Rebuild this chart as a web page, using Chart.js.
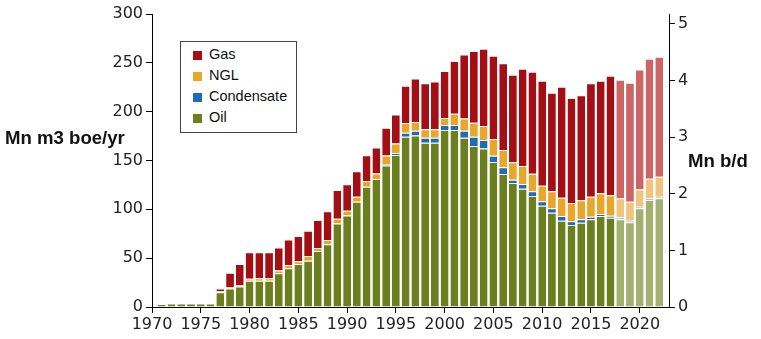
<!DOCTYPE html>
<html>
<head>
<meta charset="utf-8">
<script src="https://cdn.jsdelivr.net/npm/chart.js@4"></script>
<style>
    body { margin: 0; background: #fff; }
    #wrap { position: relative; width: 761px; height: 339px; }
    #chart { position: absolute; left: 0; top: 0; }
    .axis-title { position: absolute; font: bold 18.6px "Liberation Sans", Arial, sans-serif; color: #111; white-space: nowrap; line-height: 20px; }
    #legend { position: absolute; left: 180px; top: 41px; width: 117px; height: 92px; box-sizing: border-box; border: 1px solid #444; background: #fff; }
    .leg-row { position: absolute; left: 12px; height: 20px; line-height: 20px; font: 14.5px "Liberation Sans", Arial, sans-serif; color: #111; white-space: nowrap; }
    .leg-box { position: absolute; left: 0; top: 5px; width: 9px; height: 9px; }
    .leg-text { position: absolute; left: 16px; top: 0; }
</style>
</head>
<body>
<div id="wrap">
    <canvas id="chart" width="761" height="339"></canvas>
    <div class="axis-title" style="left:5px; top:128px;">Mn m3 boe/yr</div>
    <div class="axis-title" style="left:688px; top:151px;">Mn b/d</div>
    <div id="legend"></div>
</div>
<script>
const years = [1971, 1972, 1973, 1974, 1975, 1976, 1977, 1978, 1979, 1980,
    1981, 1982, 1983, 1984, 1985, 1986, 1987, 1988, 1989, 1990,
    1991, 1992, 1993, 1994, 1995, 1996, 1997, 1998, 1999, 2000,
    2001, 2002, 2003, 2004, 2005, 2006, 2007, 2008, 2009, 2010,
    2011, 2012, 2013, 2014, 2015, 2016, 2017, 2018, 2019, 2020,
    2021, 2022];

// Mn m3 oil equivalent per year
const oil = [3, 3.5, 3.5, 3.5, 3.5, 3.5, 15, 19, 21, 27,
    27, 27, 34.5, 39.6, 44, 47.4, 57.3, 64.2, 85.6, 93.8,
    107.8, 123, 131, 145, 155.6, 174.3, 175.7, 168.2, 168.2, 181.2,
    181.2, 173.3, 164.8, 162.4, 148.4, 136.1, 126.9, 121.1, 113.6, 103.7,
    96.5, 88.3, 83.9, 86.3, 89.8, 93.1, 91.4, 89.8, 86.7, 101,
    109.5, 111.3];
const condensate = [null, null, null, null, null, null, null, null, null, null,
    null, null, null, null, null, null, null, null, null, null,
    null, null, null, 1.5, 2, 4.1, 4.8, 5.1, 5.1, 5.1,
    5.1, 7.2, 9.5, 8.6, 6.5, 6.9, 3.4, 4.8, 4.8, 4.5,
    4.5, 4.8, 3.8, 3.5, 2.7, 2.1, 2, 2, 1.6, 1.7,
    1.8, 1.6];
const ngl = [null, null, null, null, null, null, 1, 1, 1, 2,
    2.4, 2.4, 3, 3.4, 2.8, 4.8, 3.1, 4.4, 4.8, 4.8,
    5.1, 6, 5.8, 8.5, 9.9, 9.9, 8.9, 8.6, 8.6, 7.1,
    11.6, 12.6, 14.3, 14.3, 17.1, 17.7, 17.8, 18.4, 18, 16,
    17.4, 18.8, 18.7, 19.4, 20.4, 21.2, 20.9, 19.5, 19.5, 17.8,
    20, 20.5];
const gas = [null, null, null, null, null, null, 3, 15, 22, 27,
    26.6, 26.6, 23.5, 26, 26, 25.8, 28.6, 29.4, 29.4, 27,
    26, 26.3, 26.6, 28.5, 29.7, 38.2, 44.6, 47.1, 49.1, 48.2,
    54.1, 65.5, 73.4, 79.1, 85.2, 89, 89.7, 99.6, 104.4, 107.4,
    100.9, 113.6, 107.5, 107.5, 116.1, 115.2, 122.5, 121.4, 121.8, 122.8,
    122.8, 122.8];

const leftTicks = [0, 50, 100, 150, 200, 250, 300];
const rightTicks = [0, 1, 2, 3, 4, 5];
const boePerBd = 58; // Mn m3/yr per Mn b/d (right axis scale)
const lighterFrom = 2018;

// stacking order bottom -> top
const series = [
    { name: 'Oil', values: oil, dark: '#6b7f1f', light: '#a2b070' },
    { name: 'Condensate', values: condensate, dark: '#1c6db5', light: '#86aed2' },
    { name: 'NGL', values: ngl, dark: '#e8a62a', light: '#efc47c' },
    { name: 'Gas', values: gas, dark: '#a30f14', light: '#cd6465' }
];

const tickFont = { family: '"DejaVu Sans", sans-serif', size: 16 };

const datasets = series.map(s => ({
    label: s.name,
    data: years.map((yr, i) => ({ x: yr, y: s.values[i] })),
    backgroundColor: years.map(yr => yr >= lighterFrom ? s.light : s.dark),
    borderColor: '#ffffff',
    borderWidth: { top: 1, left: 0, right: 0, bottom: 0 },
    categoryPercentage: 1,
    barPercentage: 0.8,
    xAxisID: 'x',
    yAxisID: 'y'
}));

const ctx = document.getElementById('chart').getContext('2d');
const chart = new Chart(ctx, {
    type: 'bar',
    data: { datasets: datasets },
    options: {
        responsive: false,
        animation: false,
        layout: { padding: { top: 14, left: 0, right: 0, bottom: 0 } },
        plugins: { legend: { display: false }, tooltip: { enabled: false } },
        scales: {
            x: {
                type: 'linear',
                stacked: true,
                min: 1970,
                max: 2023,
                offset: false,
                grid: { display: true, drawOnChartArea: false, offset: false, tickLength: 6, color: '#000' },
                border: { display: true, color: '#000', width: 1 },
                ticks: { stepSize: 5, includeBounds: false, autoSkip: false, maxRotation: 0, padding: 2, color: '#222', font: tickFont, callback: v => String(v) },
                afterFit: s => { s.height = 32; }
            },
            y: {
                position: 'left',
                stacked: true,
                min: leftTicks[0],
                max: leftTicks[leftTicks.length - 1],
                grid: { display: true, drawOnChartArea: false, tickLength: 6, color: '#000' },
                border: { display: true, color: '#000', width: 1 },
                ticks: { stepSize: 50, padding: 3, color: '#222', font: tickFont },
                afterFit: s => { s.width = 152; }
            },
            y1: {
                position: 'right',
                min: rightTicks[0],
                max: leftTicks[leftTicks.length - 1] / boePerBd,
                grid: { display: true, drawOnChartArea: false, tickLength: 6, color: '#000' },
                border: { display: true, color: '#000', width: 1 },
                ticks: { stepSize: 1, includeBounds: false, padding: 3, color: '#222', font: tickFont },
                afterFit: s => { s.width = 92; }
            }
        }
    }
});

// legend box (top -> bottom: Gas, NGL, Condensate, Oil)
const legend = document.getElementById('legend');
series.slice().reverse().forEach((s, i) => {
    const row = document.createElement('div');
    row.className = 'leg-row';
    row.style.top = (4 + i * 21) + 'px';
    const box = document.createElement('span');
    box.className = 'leg-box';
    box.style.background = s.dark;
    const txt = document.createElement('span');
    txt.className = 'leg-text';
    txt.textContent = s.name;
    row.appendChild(box);
    row.appendChild(txt);
    legend.appendChild(row);
});
</script>
</body>
</html>
